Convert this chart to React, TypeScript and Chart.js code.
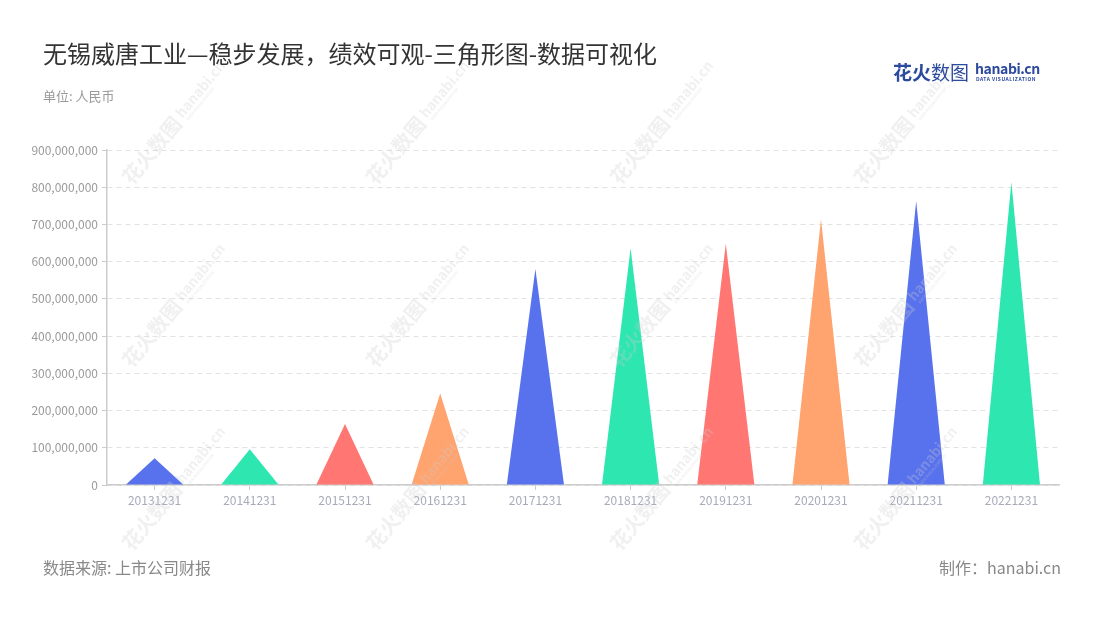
import React, { useEffect, useRef } from "react";
import { Chart, registerables } from "chart.js";

Chart.register(...registerables);

const categories = [
  "20131231", "20141231", "20151231", "20161231", "20171231",
  "20181231", "20191231", "20201231", "20211231", "20221231",
];
const revenue = [
  72000000, 96000000, 164000000, 246000000, 580000000,
  636000000, 648000000, 714000000, 763000000, 814000000,
];
const palette = ["#5872ED", "#2DE6B0", "#FF7673", "#FFA36F"];
const yMax = 900000000;
const yStep = 100000000;

const FONT = "'Noto Sans CJK SC', 'Noto Sans', sans-serif";

const trianglePlugin = {
  id: "triangles",
  beforeDatasetDraw(chart: any, args: any) {
    const ctx = chart.ctx;
    const ds = chart.data.datasets[args.index];
    args.meta.data.forEach((el: any, i: number) => {
      const { x, y, base, width } = el.getProps(["x", "y", "base", "width"], true);
      ctx.save();
      ctx.fillStyle = ds.backgroundColor[i];
      ctx.beginPath();
      ctx.moveTo(x - width / 2, base);
      ctx.lineTo(x, y);
      ctx.lineTo(x + width / 2, base);
      ctx.closePath();
      ctx.fill();
      ctx.restore();
    });
    return false;
  },
};

const watermarkPlugin = {
  id: "watermark",
  afterDraw(chart: any) {
    const ctx = chart.ctx;
    const xs = [132, 376, 620, 864];
    const ys = [186, 369, 552];
    ctx.save();
    for (const x0 of xs) {
      for (const y0 of ys) {
        ctx.save();
        ctx.translate(x0, y0);
        ctx.rotate(-0.88);
        ctx.fillStyle = "rgba(205,205,205,0.3)";
        ctx.textBaseline = "alphabetic";
        ctx.font = `bold 20px ${FONT}`;
        ctx.fillText("花火数图", 0, 0);
        const w = ctx.measureText("花火数图").width;
        ctx.font = `bold 14px ${FONT}`;
        ctx.fillText("hanabi.cn", w + 4, -4);
        ctx.font = `bold 4px ${FONT}`;
        ctx.fillText("DATA VISUALIZATION", w + 6, 2);
        ctx.restore();
      }
    }
    ctx.restore();
  },
};

export default function App() {
  const canvasRef = useRef<HTMLCanvasElement | null>(null);

  useEffect(() => {
    document.body.style.margin = "0";
    const canvas = canvasRef.current;
    if (!canvas) return;
    const chart = new Chart(canvas, {
      type: "bar",
      data: {
        labels: categories,
        datasets: [
          {
            data: revenue,
            backgroundColor: categories.map((_, i) => palette[i % palette.length]),
            barPercentage: 0.6,
            categoryPercentage: 1,
          },
        ],
      },
      options: {
        responsive: false,
        animation: false,
        devicePixelRatio: 1,
        layout: { padding: { top: 150, right: 41, left: 0, bottom: 0 } },
        plugins: {
          legend: { display: false },
          tooltip: { enabled: false },
          title: { display: false },
        },
        scales: {
          x: {
            grid: {
              display: true,
              drawOnChartArea: false,
              drawTicks: true,
              tickLength: 5,
              tickColor: "#cccccc",
              offset: false,
            },
            border: { display: true, color: "#cccccc", width: 1.5 },
            ticks: {
              color: "#a7abb8",
              font: { family: FONT, size: 12 },
              padding: 3,
              maxRotation: 0,
              autoSkip: false,
            },
            afterFit: (scale: any) => {
              scale.height = 135;
            },
          },
          y: {
            min: 0,
            max: yMax,
            grid: {
              color: "#e2e2e2",
              lineWidth: 1,
              drawTicks: true,
              tickLength: 5,
              tickColor: "#cccccc",
              tickBorderDash: [],
            },
            border: { display: true, color: "#cccccc", width: 1.5, dash: [5, 4] },
            ticks: {
              stepSize: yStep,
              color: "#9a9a9a",
              font: { family: FONT, size: 12 },
              padding: 4,
              callback: (v: any) => Number(v).toLocaleString("en-US"),
            },
            afterFit: (scale: any) => {
              scale.width = 107;
            },
          },
        },
      },
      plugins: [trianglePlugin, watermarkPlugin],
    });
    return () => chart.destroy();
  }, []);

  const abs = (o: any): React.CSSProperties => ({ position: "absolute", whiteSpace: "nowrap", fontFamily: FONT, ...o });

  return (
    <div style={{ position: "absolute", left: 0, top: 0, width: 1100, height: 620, background: "#ffffff", overflow: "hidden" }}>
      <canvas ref={canvasRef} width={1100} height={620} style={{ position: "absolute", left: 0, top: 0, width: 1100, height: 620 }} />
      <div style={abs({ left: 43, top: 38, fontSize: 24, lineHeight: "30px", color: "#333333" })}>
        无锡威唐工业—稳步发展，绩效可观-三角形图-数据可视化
      </div>
      <div style={abs({ left: 43, top: 87, fontSize: 13, lineHeight: "18px", color: "#999999" })}>单位: 人民币</div>
      <div style={abs({ left: 893, top: 59, fontSize: 19, lineHeight: "26px", color: "#2c4a9e", fontWeight: 700 })}>
        花火<span style={{ fontWeight: 400 }}>数图</span>
      </div>
      <div style={abs({ left: 975, top: 59, fontSize: 14, lineHeight: "18px", color: "#2c4a9e", fontWeight: 700, letterSpacing: -0.4 })}>
        hanabi.cn
      </div>
      <div style={abs({ left: 976, top: 76, fontSize: 5, lineHeight: "6px", color: "#2c4a9e", fontWeight: 700, letterSpacing: 0.5 })}>
        DATA VISUALIZATION
      </div>
      <div style={abs({ left: 43, top: 556, fontSize: 16, lineHeight: "22px", color: "#888888" })}>数据来源: 上市公司财报</div>
      <div style={abs({ right: 39, top: 556, fontSize: 16, lineHeight: "22px", color: "#888888" })}>制作：hanabi.cn</div>
    </div>
  );
}
